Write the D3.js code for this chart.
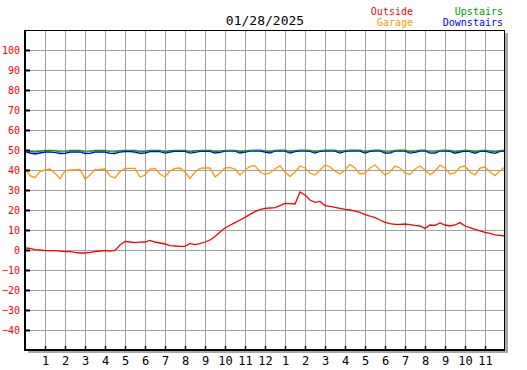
<!DOCTYPE html>
<html>
<head>
<meta charset="utf-8">
<script src="https://cdn.jsdelivr.net/npm/d3@7"></script>
<style>
body { margin: 0; background: #fff; }
text { font-family: "DejaVu Sans Mono", monospace; }
</style>
</head>
<body>
<div id="chart"></div>
<script>
var title = "01/28/2025";

// hour of day for each sample (every 15 minutes)
var times = d3.range(0, 24.001, 0.25);
var hourTicks = [1,2,3,4,5,6,7,8,9,10,11,12,13,14,15,16,17,18,19,20,21,22,23];
var hourLabels = ["1","2","3","4","5","6","7","8","9","10","11","12","1","2","3","4","5","6","7","8","9","10","11"];
var tempTicks = [-40,-30,-20,-10,0,10,20,30,40,50,60,70,80,90,100];

var outside = [
  1.0, 0.8, 0.2, 0.0, -0.3, -0.3, -0.3, -0.6, -0.8, -0.8, -1.2, -1.5,
  -1.5, -1.2, -0.8, -0.5, -0.3, -0.5, -0.2, 2.5, 4.3, 4.0, 3.7, 3.9,
  4.0, 4.8, 4.0, 3.5, 3.0, 2.2, 2.0, 1.8, 1.8, 3.3, 2.7, 3.2,
  4.0, 5.0, 6.7, 9.0, 11.0, 12.4, 13.7, 15.0, 16.3, 17.8, 19.2, 20.2,
  20.8, 21.0, 21.2, 22.2, 23.3, 23.2, 23.0, 29.0, 27.5, 25.0, 23.8, 24.3,
  22.2, 21.8, 21.3, 20.8, 20.3, 20.0, 19.4, 18.8, 17.7, 17.0, 16.2, 15.0,
  13.8, 13.2, 12.8, 12.8, 13.0, 12.7, 12.3, 12.0, 10.8, 12.5, 12.3, 13.5,
  12.5, 12.0, 12.5, 13.7, 12.0, 11.2, 10.3, 9.6, 8.8, 8.3, 7.6, 7.3,
  7.0
];
var garage = [
  40.8, 37.2, 36.2, 39.2, 40.0, 40.5, 38.3, 35.6, 39.7, 40.0, 40.0, 40.3,
  35.5, 37.5, 40.2, 40.3, 40.5, 37.0, 36.0, 39.2, 40.8, 40.8, 40.8, 36.5,
  37.5, 40.5, 40.8, 38.0, 36.5, 39.5, 40.8, 41.0, 39.0, 35.8, 39.0, 40.8,
  41.0, 41.0, 36.5, 38.5, 41.0, 41.2, 40.5, 37.5, 40.0, 41.8, 42.2, 39.0,
  37.8, 38.5, 40.5, 42.2, 39.0, 36.7, 39.0, 42.0, 41.0, 38.5, 37.5, 40.0,
  42.5, 41.5, 39.5, 38.0, 40.0, 42.8, 41.0, 38.0, 38.5, 41.0, 42.5, 40.0,
  37.5, 39.0, 42.0, 41.0, 38.5, 37.8, 40.5, 42.0, 40.0, 37.5, 39.5, 42.5,
  41.0, 38.0, 38.5, 41.5, 42.0, 39.0, 37.5, 41.0, 41.5, 39.0, 37.2, 39.5,
  41.5
];
var upstairs = [
  49.8, 49.3, 49.0, 49.3, 49.8, 49.8, 49.7, 49.0, 49.2, 49.8, 49.8, 49.8,
  49.0, 49.2, 49.8, 49.8, 49.8, 49.2, 49.0, 49.7, 49.8, 49.8, 49.8, 49.1,
  49.3, 49.8, 49.8, 49.8, 49.1, 49.7, 49.8, 49.8, 49.8, 49.1, 49.5, 49.8,
  49.8, 49.8, 49.2, 49.4, 49.8, 49.8, 49.8, 49.2, 49.5, 49.8, 49.9, 49.9,
  49.6, 49.2, 49.8, 49.9, 49.9, 49.2, 49.7, 49.9, 49.9, 49.8, 49.2, 49.7,
  49.9, 49.9, 49.9, 49.2, 49.7, 49.9, 49.9, 49.9, 49.2, 49.7, 49.9, 49.9,
  49.2, 49.1, 49.8, 49.9, 49.9, 49.1, 49.4, 49.9, 49.9, 49.1, 49.2, 49.8,
  49.9, 49.8, 49.1, 49.6, 49.9, 49.7, 49.1, 49.7, 49.9, 49.4, 49.1, 49.7,
  49.9
];
var downstairs = [
  49.2, 48.5, 48.0, 48.5, 49.0, 49.0, 48.8, 48.2, 48.3, 49.0, 49.0, 49.0,
  48.2, 48.3, 49.0, 49.0, 49.0, 48.3, 48.2, 49.0, 49.2, 49.2, 49.0, 48.3,
  48.5, 49.2, 49.2, 49.2, 48.4, 49.0, 49.3, 49.3, 49.3, 48.4, 48.8, 49.3,
  49.3, 49.3, 48.5, 48.8, 49.4, 49.4, 49.4, 48.5, 48.9, 49.4, 49.4, 49.4,
  49.0, 48.5, 49.4, 49.5, 49.4, 48.5, 49.2, 49.5, 49.5, 49.3, 48.5, 49.3,
  49.5, 49.5, 49.4, 48.5, 49.3, 49.5, 49.5, 49.4, 48.5, 49.3, 49.5, 49.5,
  48.5, 48.4, 49.4, 49.5, 49.4, 48.4, 48.8, 49.5, 49.5, 48.4, 48.5, 49.4,
  49.5, 49.3, 48.4, 49.0, 49.5, 49.2, 48.4, 49.3, 49.5, 48.8, 48.3, 49.3,
  49.5
];

var margin = {top: 30, right: 22, bottom: 20, left: 25};
var width = 480;
var height = 320;

var xScale = d3.scaleLinear().domain([0, 24]).range([0, width]);
var yScale = d3.scaleLinear().domain([-50, 110]).range([height, 0]);

var svg = d3.select("#chart").append("svg")
    .attr("width", 527)
    .attr("height", 370);

// title + legend
svg.append("text")
    .attr("x", 265).attr("y", 25)
    .attr("text-anchor", "middle")
    .attr("font-size", 13)
    .text(title);

var legend = [
  {name: "Outside", color: "#ff0000", x: 413, y: 15},
  {name: "Garage", color: "#ff9900", x: 413, y: 26},
  {name: "Upstairs", color: "#009900", x: 503, y: 15},
  {name: "Downstairs", color: "#0000ff", x: 503, y: 26}
];
svg.selectAll(".legend").data(legend).enter().append("text")
    .attr("class", "legend")
    .attr("x", d => d.x).attr("y", d => d.y)
    .attr("text-anchor", "end")
    .attr("font-size", 10)
    .attr("fill", d => d.color)
    .text(d => d.name);

var g = svg.append("g")
    .attr("transform", "translate(" + margin.left + "," + margin.top + ")");

// drop shadow + plot background
g.append("rect")
    .attr("x", 3).attr("y", 3)
    .attr("width", width).attr("height", height)
    .attr("fill", "#a8a8a8");
g.append("rect")
    .attr("width", width).attr("height", height)
    .attr("fill", "#fff");

// grid
g.append("g")
    .attr("class", "ygrid")
    .call(d3.axisLeft(yScale).tickValues(tempTicks).tickSize(-width).tickFormat(""))
    .call(s => s.select(".domain").remove())
    .selectAll("line").attr("stroke", "#a0a0a0").attr("shape-rendering", "crispEdges");

g.append("g")
    .attr("class", "xgrid")
    .call(d3.axisTop(xScale).tickValues(hourTicks).tickSize(-height).tickFormat(""))
    .call(s => s.select(".domain").remove())
    .selectAll("line").attr("stroke", "#a0a0a0").attr("shape-rendering", "crispEdges");

// series
var line = d3.line()
    .x((d, i) => xScale(times[i]))
    .y(d => yScale(d));

var series = [
  {values: garage, color: "#ff9900"},
  {values: outside, color: "#ff0000"},
  {values: downstairs, color: "#0000ff"},
  {values: upstairs, color: "#009900"}
];
series.forEach(function(s) {
  g.append("path")
      .datum(s.values)
      .attr("fill", "none")
      .attr("stroke", s.color)
      .attr("stroke-width", 1.3)
      .attr("d", line);
});

// frame
g.append("rect")
    .attr("x", 0.5).attr("y", 0.5)
    .attr("width", width - 1).attr("height", height)
    .attr("fill", "none")
    .attr("stroke", "#000")
    .attr("shape-rendering", "crispEdges");
g.append("line")
    .attr("x1", 0).attr("x2", width).attr("y1", height).attr("y2", height)
    .attr("stroke", "#000").attr("stroke-width", 2);
g.append("line")
    .attr("x1", 0).attr("x2", 0).attr("y1", 0).attr("y2", height + 1)
    .attr("stroke", "#000").attr("stroke-width", 2);

// axes
var yAxis = d3.axisLeft(yScale).tickValues(tempTicks).tickSize(-5).tickPadding(5);
var yG = g.append("g").attr("class", "yaxis").call(yAxis);
yG.select(".domain").remove();
yG.selectAll("line").attr("stroke", "#000").attr("stroke-width", 2);
yG.selectAll("text")
    .attr("fill", "#ff0000")
    .attr("font-size", 10)
    .attr("font-family", "DejaVu Sans Mono, monospace");

var xAxis = d3.axisBottom(xScale).tickValues(hourTicks).tickSize(-4).tickPadding(6)
    .tickFormat((d, i) => hourLabels[i]);
var xG = g.append("g").attr("class", "xaxis")
    .attr("transform", "translate(0," + height + ")")
    .call(xAxis);
xG.select(".domain").remove();
xG.selectAll("line").attr("stroke", "#000").attr("stroke-width", 1.5);
xG.selectAll("text")
    .attr("fill", "#000")
    .attr("font-size", 12)
    .attr("font-family", "DejaVu Sans Mono, monospace");
</script>
</body>
</html>
